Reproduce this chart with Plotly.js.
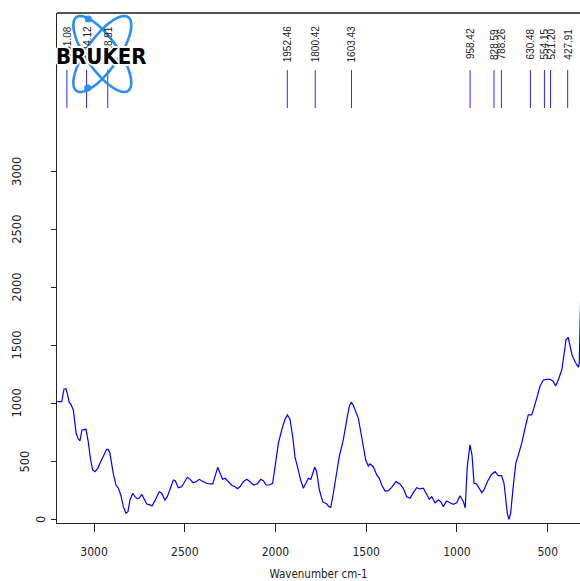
<!DOCTYPE html>
<html><head><meta charset="utf-8">
<script src="https://cdn.plot.ly/plotly-3.0.1.min.js"></script>
<style>html,body{margin:0;padding:0;background:#fff;overflow:hidden}#chart{width:580px;height:581px}</style>
</head><body><div id="chart"></div>
<script>
// ---- data ----
const wavenumber = [
3203,3179,3167,3156,3149,3138,3130,3116,3101,3091,3080,3069,3047,3035,3022,3011,2998,2983,2971,2956,
2944,2935,2926,2917,2899,2884,2871,2858,2844,2830,2819,2808,2793,2781,2768,2757,2744,2732,2717,2699,
2688,2672,2649,2635,2618,2605,2590,2572,2562,2545,2527,2509,2496,2481,
2464,2449,2431,2409,2391,2373,2358,2346,2331,2318,2304,2290,2273,2255,2237,2224,2210,2192,2173,2155,
2137,2116,2097,2083,2068,2050,2032,2018,2001,1983,1965,1952,1938,1923,1911,1893,1880,1865,1851,1838,
1825,1814,1803,1793,1778,1760,1738,1727,1716,1702,1688,1670,1648,1637,1626,1615,1604,1594,1579,1566,
1553,1539,1526,1512,1503,
1485,1466,1452,1439,1421,1403,1385,1361,1340,1322,1303,1285,1267,1249,1231,1213,1198,1180,1167,1149,
1131,1118,1104,1086,1068,1050,1031,1013,995,985,974,959,948,937,923,908,895,883,865,841,
823,805,787,774,763,756,747,738,724,710,696,678,660,642,623,611,596,578,560,542,
524,509,493,479,460,448,437,425,415,404,388,370,365,361,356];
const absorbance = [
1016,1016,1123,1128,1088,1007,996,944,743,700,676,771,777,670,512,426,411,440,484,535,
564,604,604,570,397,296,268,210,109,52,66,167,225,195,178,184,216,181,132,124,
115,161,238,225,167,195,268,339,333,273,281,333,363,345,
316,325,345,325,311,305,305,368,449,397,345,354,325,294,281,264,281,325,345,325,
296,305,345,333,296,296,311,454,656,771,864,901,864,713,541,426,339,268,311,354,
345,397,449,411,253,152,132,109,104,225,383,541,685,771,886,978,1013,987,915,872,
756,627,512,460,478,
454,383,354,296,244,247,276,325,305,268,195,181,230,273,262,268,225,173,195,143,
167,152,109,158,143,130,143,204,152,100,454,642,555,311,305,268,230,253,325,389,
411,377,377,311,167,52,0,52,282,484,555,656,786,901,901,959,1045,1151,1203,1209,
1209,1194,1151,1203,1289,1419,1548,1572,1505,1419,1361,1313,1347,1663,2000];
const peakPositions = [3151.08,3044.12,2928.91,1952.46,1800.42,1603.43,958.42,828.59,788.26,630.48,554.15,521.20,427.91];
const peakLabels = ["3151.08","3044.12","2928.91","1952.46","1800.42","1603.43","958.42","828.59","788.26","630.48","554.15","521.20","427.91"];
const xTickValues = [3000,2500,2000,1500,1000,500];
const yTickValues = [0,500,1000,1500,2000,2500,3000];
const yTickLabels = ["0","500","1000","1500","2000","2500","3000"];
const xTitle = "Wavenumber cm-1";
const logoText = "BRUKER";

// ---- geometry helpers (layout only) ----
const W = 580, H = 581, ML = 57, MR = 0, MT = 13, MB = 58;
const PW = W - ML - MR, PH = H - MT - MB;
const pxX = p => (p - ML) / PW;
const pxY = p => (H - MB - p) / PH;

const narrow = "Liberation Sans Narrow, DejaVu Sans Condensed, Arial, sans-serif";
const arial = "Liberation Sans, Arial, sans-serif";

const annotations = [];
// y tick labels (rotated, offset like the original)
yTickLabels.forEach((t, i) => {
  annotations.push({
    xref: 'paper', yref: 'y', x: pxX(17 + (4 - t.length) * 8.2), y: yTickValues[i],
    text: t, showarrow: false, textangle: -90, xanchor: 'center', yanchor: 'middle',
    font: {family: 'DejaVu Sans, sans-serif', size: 11.5, color: '#222'}
  });
});
// peak labels
peakLabels.forEach((t, i) => {
  annotations.push({
    xref: 'x2', yref: 'paper', x: peakPositions[i], y: pxY(44),
    text: t, showarrow: false, textangle: -90, xanchor: 'center', yanchor: 'middle',
    font: {family: arial, size: 10, color: '#222'}
  });
});

const shapes = [];
// top frame line
shapes.push({type: 'line', xref: 'paper', yref: 'paper', x0: 0, x1: 1, y0: 1, y1: 1,
  line: {color: '#555', width: 2}});
// peak marker lines
peakPositions.forEach(p => {
  shapes.push({type: 'line', xref: 'x2', yref: 'paper', x0: p, x1: p, y0: pxY(108), y1: pxY(70),
    line: {color: '#2a2aff', width: 1}});
});
// logo orbits
function orbit(cx, cy, a, b, ang) {
  const r = ang * Math.PI / 180;
  let d = '';
  for (let k = 0; k <= 72; k++) {
    const t = k / 72 * 2 * Math.PI;
    const lx = b * Math.cos(t), ly = a * Math.sin(t);
    const X = cx + lx * Math.cos(r) - ly * Math.sin(r);
    const Y = cy + lx * Math.sin(r) + ly * Math.cos(r);
    d += (k === 0 ? 'M ' : ' L ') + pxX(X).toFixed(5) + ',' + pxY(Y).toFixed(5);
  }
  return d + ' Z';
}
const logoBlue = '#2a8ef5';
shapes.push({type: 'path', xref: 'paper', yref: 'paper', path: orbit(102.3, 54, 45, 16, 35), line: {color: logoBlue, width: 2.6}});
shapes.push({type: 'path', xref: 'paper', yref: 'paper', path: orbit(102.3, 54, 45, 16, -35), line: {color: logoBlue, width: 2.6}});
[[88.3, 19], [87.7, 88.0]].forEach(([cx, cy]) => {
  shapes.push({type: 'circle', xref: 'paper', yref: 'paper', x0: pxX(cx - 3.5), x1: pxX(cx + 3.5),
    y0: pxY(cy + 3.5), y1: pxY(cy - 3.5), fillcolor: logoBlue, line: {width: 0}});
});
// logo text
annotations.push({
  xref: 'paper', yref: 'paper', x: pxX(101.8), y: pxY(56), text: logoText, showarrow: false,
  xanchor: 'center', yanchor: 'middle',
  font: {family: narrow, size: 22, color: '#000', weight: 'bold',
    shadow: '1px 1px 0 #fff, -1px -1px 0 #fff, 1px -1px 0 #fff, -1px 1px 0 #fff, 2px 0 0 #fff, -2px 0 0 #fff, 0 2px 0 #fff, 0 -2px 0 #fff'}
});

const trace = {
  type: 'scatter', mode: 'lines', x: wavenumber, y: absorbance, xaxis: 'x2', yaxis: 'y',
  line: {color: 'rgb(0,0,255)', width: 1.2}, hoverinfo: 'skip'
};
// empty trace so the tick axis (x) is created and drawn
const axisHolder = {type: 'scatter', mode: 'lines', x: [], y: [], xaxis: 'x', yaxis: 'y', hoverinfo: 'skip'};

const layout = {
  width: W, height: H, margin: {l: ML, r: MR, t: MT, b: MB, pad: 0},
  paper_bgcolor: '#fff', plot_bgcolor: '#fff', showlegend: false,
  xaxis: {
    range: [3204, 322], tickvals: xTickValues, ticks: 'outside', ticklen: 8, tickcolor: '#222', tickwidth: 1,
    showline: true, linecolor: '#222', linewidth: 1, showgrid: false, zeroline: false,
    tickfont: {family: narrow, size: 12, color: '#222'}, ticklabelstandoff: 10,
    title: {text: xTitle, font: {family: narrow, size: 11.5, color: '#222'}, standoff: 14},
    automargin: false
  },
  xaxis2: {overlaying: 'x', anchor: 'y', range: [3204.8, 360.8], visible: false},
  yaxis: {
    range: [-32, 4372], tickvals: yTickValues, showticklabels: false, ticks: 'outside', ticklen: 5,
    tickcolor: '#222', showline: true, linecolor: '#222', linewidth: 1, showgrid: false, zeroline: false,
    automargin: false
  },
  annotations: annotations, shapes: shapes
};
Plotly.newPlot('chart', [axisHolder, trace], layout, {staticPlot: true, displayModeBar: false});
</script></body></html>
